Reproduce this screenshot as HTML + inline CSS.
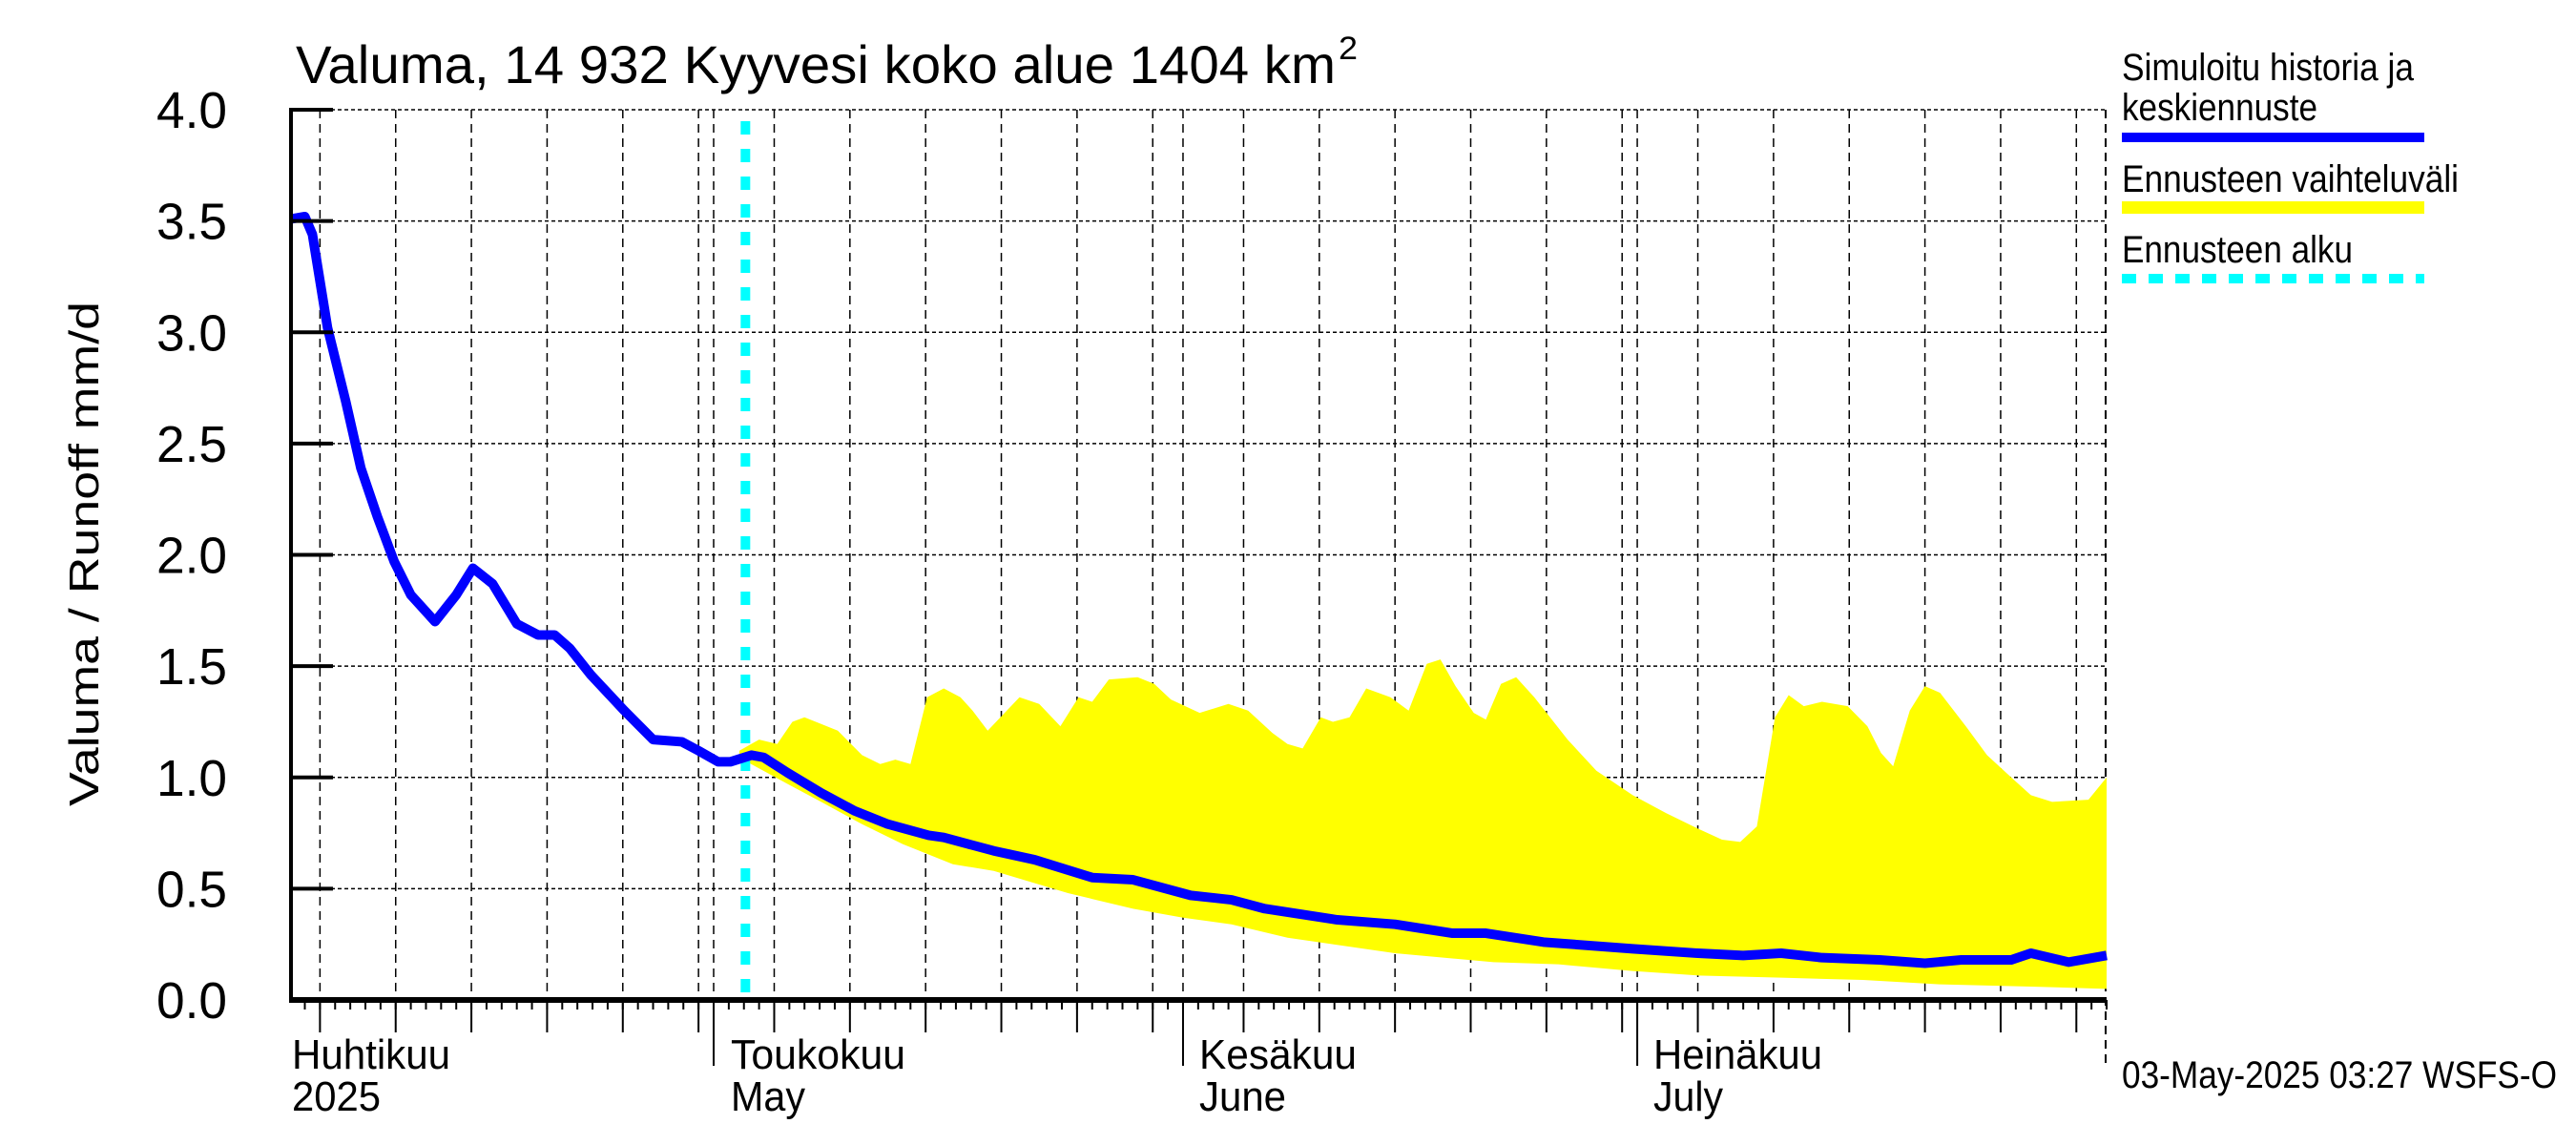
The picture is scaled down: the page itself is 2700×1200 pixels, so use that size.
<!DOCTYPE html>
<html><head><meta charset="utf-8"><style>
html,body{margin:0;padding:0;background:#fff;}
svg{display:block;}
text{font-family:"Liberation Sans",sans-serif;fill:#000;}
</style></head><body>
<svg id="chart" width="2700" height="1200" viewBox="0 0 2700 1200" xmlns="http://www.w3.org/2000/svg">
<g id="grid"></g>
<g id="band"></g>
<g id="lines"></g>
<g id="axes"></g>
<text x="310" y="87" font-size="56" textLength="1090" lengthAdjust="spacingAndGlyphs">Valuma, 14 932 Kyyvesi koko alue 1404 km</text>
<text x="1403" y="62" font-size="34" textLength="20" lengthAdjust="spacingAndGlyphs">2</text>
<text transform="translate(103,845) rotate(-90)" font-size="44" textLength="529" lengthAdjust="spacingAndGlyphs">Valuma / Runoff     mm/d</text>
<g>
<text x="2224" y="84" font-size="40" textLength="306" lengthAdjust="spacingAndGlyphs">Simuloitu historia ja</text>
<text x="2224" y="126" font-size="40" textLength="205" lengthAdjust="spacingAndGlyphs">keskiennuste</text>
<rect x="2224" y="139" width="317" height="10" fill="#0000ff"/>
<text x="2224" y="201" font-size="40" textLength="353" lengthAdjust="spacingAndGlyphs">Ennusteen vaihteluväli</text>
<rect x="2224" y="211" width="317" height="13" fill="#ffff00"/>
<text x="2224" y="275" font-size="40" textLength="242" lengthAdjust="spacingAndGlyphs">Ennusteen alku</text>
<line x1="2224" y1="292" x2="2541" y2="292" stroke="#00ffff" stroke-width="10" stroke-dasharray="15,13"/>
</g>
<text x="306" y="1120" font-size="44" textLength="166" lengthAdjust="spacingAndGlyphs">Huhtikuu</text>
<text x="306" y="1164" font-size="44" textLength="93" lengthAdjust="spacingAndGlyphs">2025</text>
<text x="766" y="1120" font-size="44" textLength="183" lengthAdjust="spacingAndGlyphs">Toukokuu</text>
<text x="766" y="1164" font-size="44" textLength="78" lengthAdjust="spacingAndGlyphs">May</text>
<text x="1257" y="1120" font-size="44" textLength="165" lengthAdjust="spacingAndGlyphs">Kesäkuu</text>
<text x="1257" y="1164" font-size="44" textLength="91" lengthAdjust="spacingAndGlyphs">June</text>
<text x="1733" y="1120" font-size="44" textLength="177" lengthAdjust="spacingAndGlyphs">Heinäkuu</text>
<text x="1733" y="1164" font-size="44" textLength="73" lengthAdjust="spacingAndGlyphs">July</text>
<text x="2224" y="1140" font-size="40" textLength="456" lengthAdjust="spacingAndGlyphs">03-May-2025 03:27 WSFS-O</text>
</svg>
<script>
// day offsets relative to 1 May 2025
const histDays = [-27.85,-27,-26.5,-25.5,-24.3,-23.3,-22.2,-21.1,-20,-18.4,-17,-15.9,-14.6,-13,-11.6,-10.5,-9.5,-8.1,-5.9,-4,-2.1,-1,0.3,1.1,2.5,3.3,4.9,7.1,9.3,11.5,14.2,15.2,18.5,21.2,25,27.7,31.5,34.2,36.4,41.2,45,48.8,51,54.8,60.7,65,68,70.5,73.2,77,80,82.4,85.7,87,89.5,92];
const histValues = [3.51,3.52,3.44,3.02,2.69,2.39,2.17,1.97,1.82,1.70,1.82,1.94,1.87,1.69,1.64,1.64,1.58,1.46,1.30,1.17,1.16,1.12,1.07,1.07,1.10,1.09,1.02,0.93,0.85,0.79,0.74,0.73,0.67,0.63,0.55,0.54,0.47,0.45,0.41,0.36,0.34,0.30,0.30,0.26,0.23,0.21,0.20,0.21,0.19,0.18,0.165,0.18,0.18,0.21,0.17,0.20];
const upperDays = [1.7,3,4.2,5.2,6,7.1,8.2,9.8,11,12,13,14.1,15.2,16.3,17.1,18.1,20.2,21.5,22.9,24.1,25,26.1,28,29.1,30.2,32.1,34,35.3,36.9,37.9,38.9,40.1,40.9,42,43.1,44.7,45.9,47.1,48,49,50.2,51,52,53,54.2,56.4,58.3,60.7,62.9,65,66.6,67.8,68.9,70.1,71,72,73.2,74.9,76.2,77.1,77.9,79,80,81,82.7,84.1,85.7,87,88.4,90.8,92];
const upperValues = [1.12,1.17,1.15,1.25,1.27,1.24,1.21,1.10,1.06,1.08,1.06,1.36,1.40,1.36,1.30,1.21,1.36,1.33,1.23,1.36,1.34,1.44,1.45,1.42,1.35,1.29,1.33,1.30,1.20,1.15,1.13,1.27,1.25,1.27,1.40,1.36,1.30,1.51,1.53,1.41,1.29,1.26,1.42,1.45,1.36,1.17,1.03,0.92,0.84,0.77,0.72,0.71,0.78,1.27,1.37,1.32,1.34,1.32,1.23,1.11,1.05,1.30,1.41,1.38,1.23,1.10,1.00,0.92,0.89,0.90,1.00];
const lowerDays = [1.7,2.2,4.9,7.1,9.8,12.5,15.8,18.5,23.4,27.7,31,34.2,37.9,45,51.5,55.8,60.7,65,70.5,75.9,81,87,92];
const lowerValues = [1.10,1.07,0.97,0.89,0.79,0.70,0.61,0.58,0.48,0.41,0.37,0.34,0.28,0.21,0.17,0.16,0.13,0.11,0.10,0.09,0.07,0.06,0.05];
const yTicks = [0,0.5,1,1.5,2,2.5,3,3.5,4];
const yTickLabels = ["0.0","0.5","1.0","1.5","2.0","2.5","3.0","3.5","4.0"];
const gridDays = [-26,-21,-16,-11,-6,-1,4,9,14,19,24,29,35,40,45,50,55,60,65,70,75,80,85,90];
const monthDays = [0,31,61];
const forecastStartDay = 2.1;
const dayMin = -27.85, dayMax = 92;

const NS = "http://www.w3.org/2000/svg";
const X0 = 305, X1 = 2207, Y0 = 1048, Y1 = 115;
function xs(d){ return 748 + (d) * 15.87; }
function ys(v){ return Y0 - (v / 4) * (Y0 - Y1); }
function mk(tag, attrs, parent){ const e = document.createElementNS(NS, tag); for (const k in attrs) e.setAttribute(k, attrs[k]); parent.appendChild(e); return e; }

const grid = document.getElementById('grid');
const band = document.getElementById('band');
const lines = document.getElementById('lines');
const axes = document.getElementById('axes');

yTicks.forEach((v, i) => {
  if (v > 0) {
    const g = mk('line', {x1: X0, x2: X1, y1: ys(v), y2: ys(v), stroke: '#000', 'stroke-width': 1.5, 'stroke-dasharray': '4,3'}, grid);
    
    
  }
  const t = mk('line', {x1: X0, x2: X0 + 44, y1: ys(v), y2: ys(v), stroke: '#000', 'stroke-width': 4}, axes);
  
  
  const lb = mk('text', {x: 238, y: ys(v) + 19, 'font-size': 54, 'text-anchor': 'end', textLength: 74, lengthAdjust: 'spacingAndGlyphs'}, axes);
  lb.textContent = yTickLabels[i];
  
  
});
gridDays.concat(monthDays).forEach(d => {
  const g = mk('line', {x1: xs(d), x2: xs(d), y1: Y1, y2: Y0, stroke: '#000', 'stroke-width': 1.5, 'stroke-dasharray': '9,6'}, grid);
  
  
  const t = mk('line', {x1: xs(d), x2: xs(d), y1: Y0, y2: monthDays.includes(d) ? 1117 : 1082, stroke: '#000', 'stroke-width': 2}, axes);
  
  
});
const rb = mk('line', {x1: X1, x2: X1, y1: Y1, y2: 1117, stroke: '#000', 'stroke-width': 2, 'stroke-dasharray': '9,6'}, grid);


for (let d = Math.ceil(dayMin); d <= dayMax; d++) {
  const t = mk('line', {x1: xs(d), x2: xs(d), y1: Y0, y2: Y0 + 10, stroke: '#000', 'stroke-width': 2}, axes);
  
  
}

// band
let pts = upperDays.map((d, i) => xs(d) + ',' + ys(upperValues[i]));
for (let i = lowerDays.length - 1; i >= 0; i--) pts.push(xs(lowerDays[i]) + ',' + ys(lowerValues[i]));
const poly = mk('polygon', {points: pts.join(' '), fill: '#ffff00', stroke: 'none'}, band);



// forecast start
const fs = mk('line', {x1: xs(forecastStartDay), x2: xs(forecastStartDay), y1: 127, y2: Y0, stroke: '#00ffff', 'stroke-width': 10, 'stroke-dasharray': '14,15'}, lines);



// simulated line
const hp = mk('polyline', {points: histDays.map((d, i) => xs(d) + ',' + ys(histValues[i])).join(' '), fill: 'none', stroke: '#0000ff', 'stroke-width': 10, 'stroke-linejoin': 'round'}, lines);



// axes lines
const ya = mk('line', {x1: X0, x2: X0, y1: Y1 - 2, y2: Y0 + 3, stroke: '#000', 'stroke-width': 4}, axes);


const xa = mk('line', {x1: X0 - 2, x2: X1, y1: Y0, y2: Y0, stroke: '#000', 'stroke-width': 6}, axes);


</script>
</body></html>
